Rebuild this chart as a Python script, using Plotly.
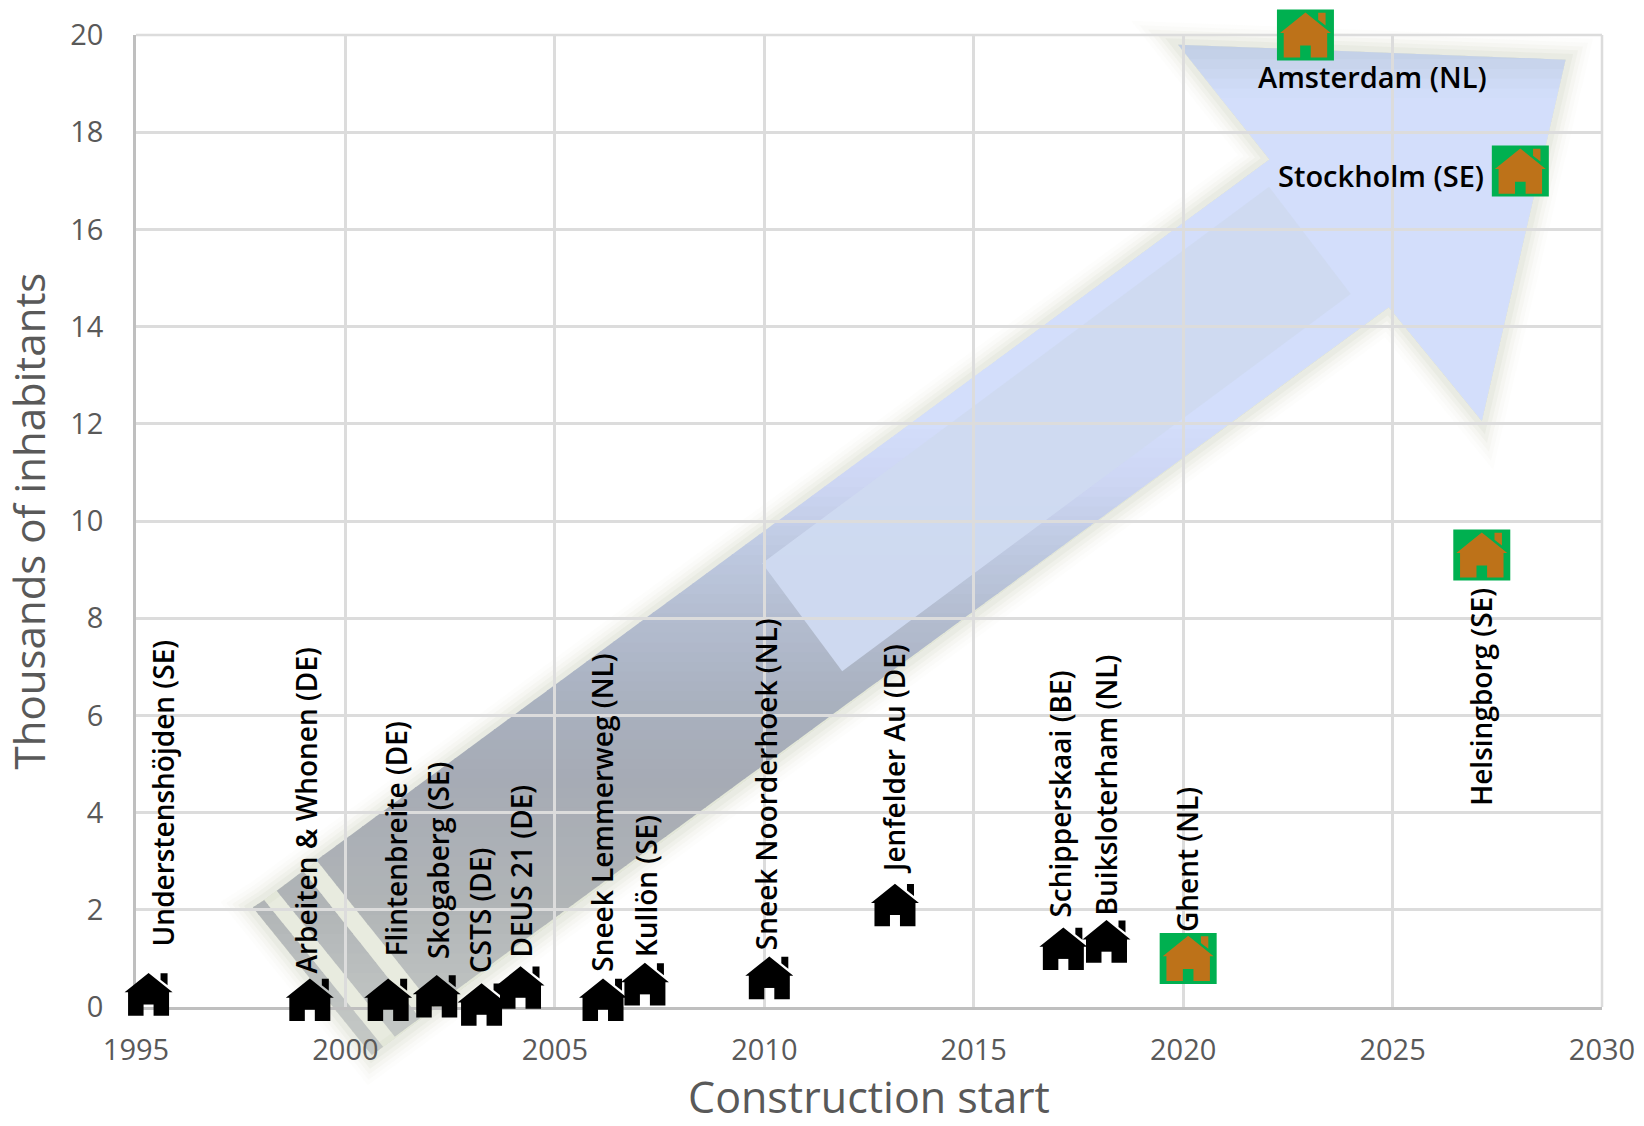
import plotly.graph_objects as go

# ---- data ----
names = ["Understenshöjden (SE)", "Arbeiten & Whonen (DE)", "Flintenbreite (DE)", "Skogaberg (SE)",
         "CSTS (DE)", "DEUS 21 (DE)", "Sneek Lemmerweg (NL)", "Kullön (SE)", "Sneek Noorderhoek (NL)",
         "Jenfelder Au (DE)", "Schipperskaai (BE)", "Buiksloterham (NL)", "Ghent (NL)",
         "Helsingborg (SE)", "Stockholm (SE)", "Amsterdam (NL)"]
start_year = [1995.3, 1999.15, 2001.02, 2002.18, 2003.25, 2004.18, 2006.15, 2007.15, 2010.12,
              2013.12, 2017.14, 2018.17, 2020.12, 2027.13, 2028.05, 2022.92]
inhabitants = [0.26, 0.15, 0.15, 0.22, 0.05, 0.4, 0.15, 0.47, 0.6,
               2.1, 1.2, 1.35, 1.0, 9.3, 17.2, 20.0]
is_large = [False] * 12 + [True] * 4
x_ticks = [1995, 2000, 2005, 2010, 2015, 2020, 2025, 2030]
y_ticks = list(range(0, 21, 2))

# ---- label placement (px from each house centre) ----
label_dx = [14, -4, 8, 2, -2, 1, -1, 1, -3, -1, -3, -1, -1, -1, -34, 67]
label_dy = [46, 24, 41, 35, 29, 28, 26, 25, 26, 29, 29, 24, 24, -253, -4, -41]

# ---- page geometry ----
W, H = 1644, 1126
L, R, T, B = 136, 42, 34.5, 119
X0, X1, Y0, Y1 = 1995, 2030, 0, 20

def px(x):
    return (x - X0) / (X1 - X0)

def py(y):
    return (y - Y0) / (Y1 - Y0)

# ---- decorative arrow, in axis units ----
arrow_outline = [(2019.88, 19.80), (2029.13, 19.49), (2027.13, 12.06), (2024.91, 14.40),
                 (2000.90, -0.82), (2000.63, -0.99), (1997.79, 2.05), (1998.06, 2.20),
                 (1998.36, 2.39), (2022.06, 17.44)]
arrow_body = [(2019.88, 19.80), (2029.13, 19.49), (2027.13, 12.06), (2024.91, 14.40),
              (2002.10, 0.006), (1999.31, 3.02), (2022.06, 17.44)]
tail_mid = [(1998.36, 2.39), (1998.99, 2.80), (2001.78, -0.23), (2001.18, -0.61)]
tail_end = [(1997.79, 2.05), (1998.06, 2.20), (2000.90, -0.82), (2000.63, -0.99)]
highlight = [(2009.95, 9.13), (2022.05, 16.88), (2024.0, 14.67), (2011.86, 6.91)]
gradient = [(-1.1, "#c6c9c6"), (0.14, "#bfc3c2"), (2.2, "#b0b4b6"), (4.67, "#a6abb5"),
            (6.31, "#a9b1bf"), (7.96, "#b3bccf"), (9.19, "#bcc7de"), (10.84, "#cdd6f4"),
            (12.07, "#d3defb"), (18.7, "#d3defb"), (19.68, "#c3d0e6"), (20.2, "#c0cde2")]


def to_path(poly):
    return "M" + " L".join(f"{px(a):.5f},{py(b):.5f}" for a, b in poly) + " Z"


def clip(poly, lo, hi):
    def half(points, keep, cross):
        out = []
        for i, p in enumerate(points):
            q = points[(i + 1) % len(points)]
            if keep(p):
                out.append(p)
            if keep(p) != keep(q):
                t = (cross - p[1]) / (q[1] - p[1])
                out.append((p[0] + t * (q[0] - p[0]), cross))
        return out
    res = half(poly, lambda p: p[1] >= lo, lo)
    if res:
        res = half(res, lambda p: p[1] <= hi, hi)
    return res


def colour_at(v):
    for (a, ca), (b, cb) in zip(gradient, gradient[1:]):
        if a <= v <= b:
            t = (v - a) / (b - a)
            rgb = [round(int(ca[i:i + 2], 16) * (1 - t) + int(cb[i:i + 2], 16) * t) for i in (1, 3, 5)]
            return "rgb(%d,%d,%d)" % tuple(rgb)
    return gradient[-1][1]


shapes = []
paper = dict(xref="paper", yref="paper", type="path")
# soft glow
for width, alpha in [(44, 0.05), (36, 0.07), (28, 0.10), (20, 0.16), (12, 0.24)]:
    shapes.append(dict(path=to_path(arrow_outline), fillcolor="#e8ebdf", layer="below",
                       line=dict(color=f"rgba(214,219,200,{alpha})", width=width), **paper))
# body with vertical gradient
step = 0.2
for poly in (arrow_body, tail_mid, tail_end):
    v = -1.1
    while v < 20.1:
        piece = clip(poly, v, v + step + 0.02)
        if len(piece) >= 3:
            shapes.append(dict(path=to_path(piece), fillcolor=colour_at(v + step / 2), layer="below",
                               line=dict(width=0), **paper))
        v += step
shapes.append(dict(path=to_path(highlight), fillcolor="rgba(206,218,241,0.97)", layer="below",
                   line=dict(width=0), **paper))
# frame lines at the far ends of the axes
for x0, y0, x1, y1 in [(0, 1, 1, 1), (1, 0, 1, 1)]:
    shapes.append(dict(type="line", xref="paper", yref="paper", x0=x0, y0=y0, x1=x1, y1=y1, layer="below",
                       line=dict(color="#dcdcdc", width=2.5)))

# ---- house glyph, px around its centre (y up) ----
house_body = [(0, 21.3), (24, 2), (20.5, 2), (20.5, -21.3), (5, -21.3), (5, -10), (-5, -10), (-5, -21.3),
              (-20.5, -21.3), (-20.5, 2), (-24, 2)]
house_chimney = [(12, 21), (19, 21), (19, 9), (12, 14.5)]


def glyph(poly, k=1.0, dy=0.0):
    return "M" + " L".join(f"{a * k:.2f},{(b * k + dy):.2f}" for a, b in poly) + " Z"


for xv, yv, large in zip(start_year, inhabitants, is_large):
    anchor = dict(xref="paper", yref="paper", xsizemode="pixel", ysizemode="pixel",
                  xanchor=px(xv), yanchor=py(yv), type="path", layer="above", line=dict(width=0))
    if large:
        shapes.append(dict(path=glyph([(-28.5, 25.5), (28.5, 25.5), (28.5, -25.5), (-28.5, -25.5)]),
                           fillcolor="#00b050", **anchor))
    colour = "#bd7219" if large else "#000000"
    k = 1.06 if large else 1.0
    shapes.append(dict(path=glyph(house_body, k), fillcolor=colour, **anchor))
    shapes.append(dict(path=glyph(house_chimney, k), fillcolor=colour, **anchor))

fig = go.Figure()
for flag, colour, name in [(False, "#000000", "Built"), (True, "#bd7219", "Planned")]:
    sel = [i for i, f in enumerate(is_large) if f == flag]
    fig.add_trace(go.Scatter(x=[start_year[i] for i in sel], y=[inhabitants[i] for i in sel],
                             mode="markers", name=name, cliponaxis=False, showlegend=False,
                             text=[names[i] for i in sel], hoverinfo="text",
                             marker=dict(symbol="square", size=20, color=colour)))

LABEL_FONT = dict(family="Open Sans", size=28, color="#000000", weight=600)
annotations = []
for name, xv, yv, dx, dy in zip(names, start_year, inhabitants, label_dx, label_dy):
    horizontal = name.startswith(("Amsterdam", "Stockholm"))
    annotations.append(dict(
        x=xv, y=yv, xref="x", yref="y", text=name, showarrow=False,
        font={**LABEL_FONT, "size": 29} if horizontal else LABEL_FONT,
        textangle=0 if horizontal else -90, xshift=dx, yshift=dy,
        xanchor="right" if name.startswith("Stockholm") else "center",
        yanchor="middle" if horizontal else "bottom"))

axis = dict(showgrid=True, gridcolor="#dcdcdc", gridwidth=2.5, showline=True, linecolor="#bfbfbf",
            linewidth=2.5, zeroline=False, ticks="", tickfont=dict(family="Open Sans", size=29, color="#595959"))
fig.update_layout(
    width=W, height=H, margin=dict(l=L, r=R, t=T, b=B, autoexpand=False),
    paper_bgcolor="#ffffff", plot_bgcolor="rgba(0,0,0,0)", showlegend=False,
    shapes=shapes, annotations=annotations,
    xaxis=dict(range=[X0, X1], tickvals=x_ticks, ticktext=[str(v) for v in x_ticks], ticklabelstandoff=15,
               automargin=True,
               title=dict(text="Construction start", standoff=30,
                          font=dict(family="Open Sans", size=43, color="#595959")), **axis),
    yaxis=dict(range=[Y0, Y1], tickvals=y_ticks, ticktext=[str(v) for v in y_ticks], ticklabelstandoff=24,
               title=dict(text="Thousands of inhabitants",
                          font=dict(family="Open Sans", size=42, color="#595959")), **axis),
)

fig.write_html("out.html", config={"displayModeBar": False},
               post_script="document.body.style.margin='0';document.body.style.overflow='hidden';")
